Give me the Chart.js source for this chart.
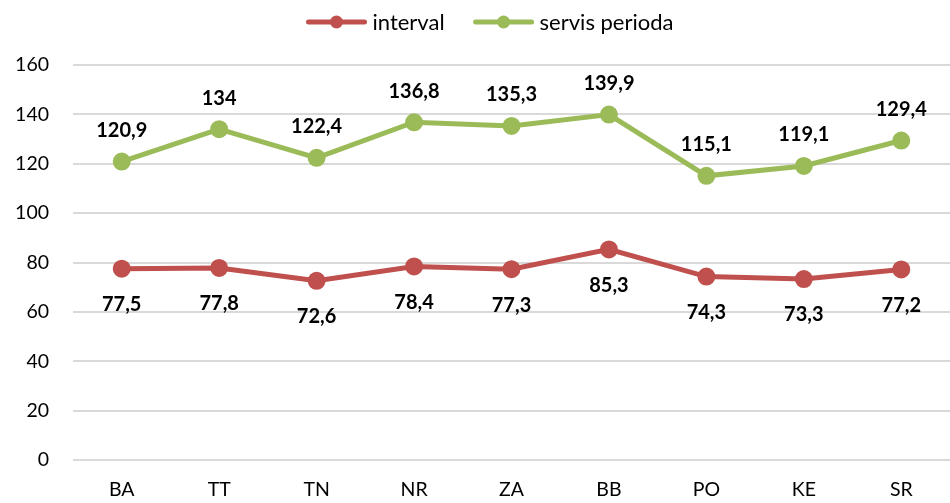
<!DOCTYPE html>
<html><head><meta charset="utf-8">
<script src="https://cdn.jsdelivr.net/npm/chart.js@4"></script>
<style>html,body{margin:0;padding:0;background:#fff}#w{width:950px;height:503px}</style>
</head><body><div id="w"><canvas id="c"></canvas></div>
<script>
const categories = ["BA","TT","TN","NR","ZA","BB","PO","KE","SR"];
const intervalValues = [77.5,77.8,72.6,78.4,77.3,85.3,74.3,73.3,77.2];
const servisValues = [120.9,134,122.4,136.8,135.3,139.9,115.1,119.1,129.4];
const yTicks = [0,20,40,60,80,100,120,140,160];
const FONT = "Lato, 'Open Sans', sans-serif";

const labelPlugin = {
  id: 'labels',
  afterDatasetsDraw(chart) {
    const ctx = chart.ctx;
    ctx.save();
    ctx.font = "bold 20px " + FONT;
    ctx.fillStyle = "#000";
    ctx.textAlign = "center";
    ctx.textBaseline = "middle";
    chart.data.datasets.forEach((ds, i) => {
      const meta = chart.getDatasetMeta(i);
      meta.data.forEach((pt, j) => {
        const v = ds.data[j];
        const txt = String(v).replace('.', ',');
        const dy = i === 0 ? 36 : -31;
        ctx.fillText(txt, pt.x, pt.y + dy);
      });
    });
    ctx.restore();
  }
};

const legendPlugin = {
  id: 'customLegend',
  afterDraw(chart) {
    const ctx = chart.ctx;
    ctx.save();
    ctx.font = "22px " + FONT;
    ctx.textBaseline = 'middle';
    ctx.textAlign = 'left';
    const ds = chart.data.datasets;
    const lineW = 60, gapT = 6, gapItem = 29;
    const widths = ds.map(d => ctx.measureText(d.label).width);
    let total = 0;
    widths.forEach((w, i) => { total += lineW + gapT + w + (i < widths.length - 1 ? gapItem : 0); });
    let x = 490 - total / 2;
    const cy = 22;
    ds.forEach((d, i) => {
      ctx.strokeStyle = d.borderColor;
      ctx.lineWidth = 5;
      ctx.lineCap = 'round';
      ctx.beginPath();
      ctx.moveTo(x + 2, cy);
      ctx.lineTo(x + lineW - 2, cy);
      ctx.stroke();
      ctx.fillStyle = d.borderColor;
      ctx.beginPath();
      ctx.arc(x + lineW / 2, cy, 6.5, 0, Math.PI * 2);
      ctx.fill();
      ctx.fillStyle = '#000';
      ctx.fillText(d.label, x + lineW + gapT, cy + 1);
      x += lineW + gapT + widths[i] + gapItem;
    });
    ctx.restore();
  }
};

new Chart(document.getElementById('c'), {
  type: 'line',
  data: {
    labels: categories,
    datasets: [
      {label: 'interval', data: intervalValues, borderColor: '#C0504D', backgroundColor: '#C0504D',
       borderWidth: 5, pointRadius: 6.5, pointHoverRadius: 6.5, tension: 0},
      {label: 'servis perioda', data: servisValues, borderColor: '#9BBB59', backgroundColor: '#9BBB59',
       borderWidth: 5, pointRadius: 6.5, pointHoverRadius: 6.5, tension: 0}
    ]
  },
  options: {
    responsive: true, maintainAspectRatio: false, animation: false,
    layout: {autoPadding: false, padding: {left: 0, right: 0, top: 65, bottom: 0}},
    plugins: {
      tooltip: {enabled: false},
      legend: {display: false}
    },
    scales: {
      x: {
        offset: true,
        afterFit(s) { s.paddingLeft = 0; s.paddingRight = 0; s.height = 43; },
        grid: {display: false, drawTicks: false},
        border: {display: false},
        ticks: {font: {family: FONT, size: 19.5}, color: '#000', padding: 18}
      },
      y: {
        min: 0, max: 160,
        afterBuildTicks(s) { s.ticks = yTicks.map(v => ({value: v})); },
        afterFit(s) { s.width = 73; },
        grid: {color: '#D9D9D9', lineWidth: 2, drawTicks: false},
        border: {display: false},
        ticks: {font: {family: FONT, size: 19.5}, color: '#000', padding: 24}
      }
    }
  },
  plugins: [labelPlugin, legendPlugin]
});
</script></body></html>
